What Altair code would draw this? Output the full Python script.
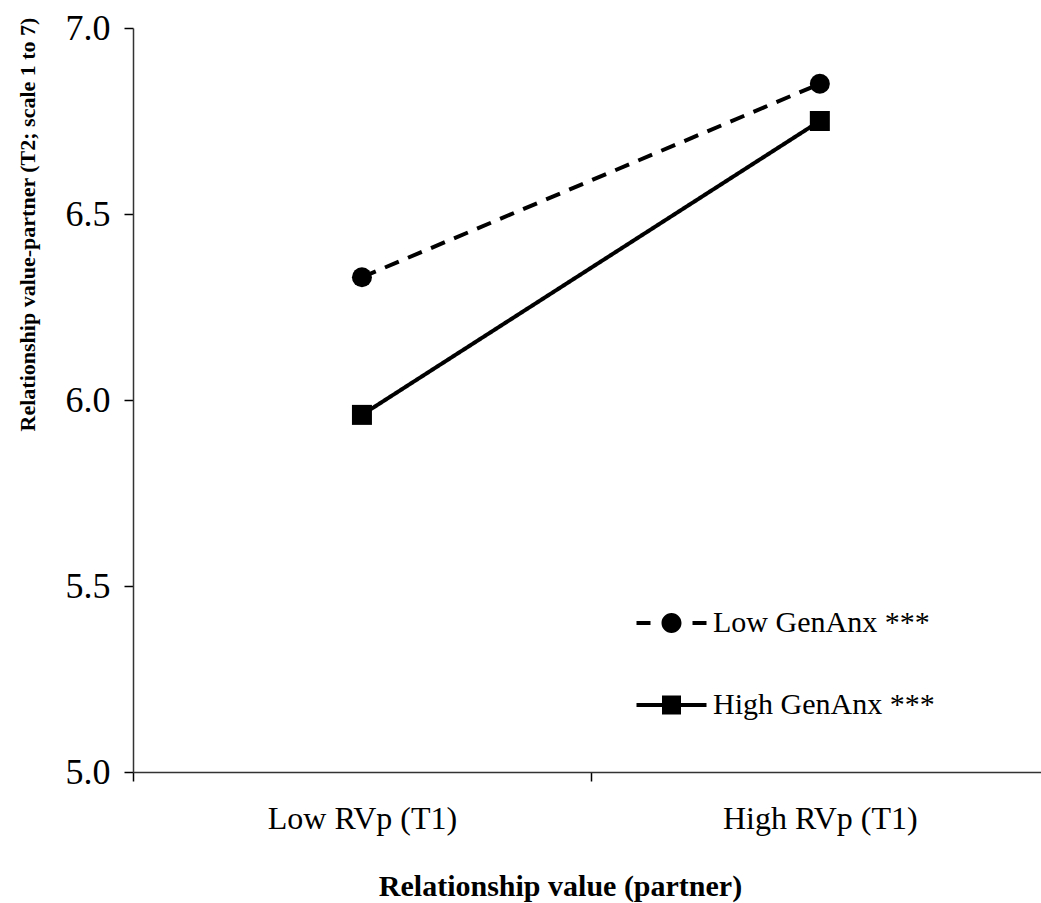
import altair as alt
import pandas as pd

# ---- data ----
categories = ["Low RVp (T1)", "High RVp (T1)"]
series_names = ["Low GenAnx ***", "High GenAnx ***"]
low_genanx = [6.33, 6.85]
high_genanx = [5.96, 6.75]
y_ticks = [5.0, 5.5, 6.0, 6.5, 7.0]

rows = []
for name, vals in zip(series_names, [low_genanx, high_genanx]):
    for i, (cat, v) in enumerate(zip(categories, vals)):
        rows.append({"series": name, "category": cat, "pos": i, "value": v})
df = pd.DataFrame(rows)

FONT = "Liberation Serif"

label_expr = (
    f"datum.value == 0 ? '{categories[0]}' : "
    f"datum.value == 1 ? '{categories[1]}' : ''"
)

x_enc = alt.X(
    "pos:Q",
    scale=alt.Scale(domain=[-0.5, 1.483], nice=False, zero=False),
    axis=alt.Axis(
        title="Relationship value (partner)",
        values=[-0.5, 0, 0.5, 1],
        labelExpr=label_expr,
        labelFlush=False,
        labelOverlap=False,
        labelLimit=0,
        labelFont=FONT,
        labelFontSize=32,
        labelColor="black",
        labelBaseline="top",
        labelPadding=22,
        tickSize=9,
        tickColor="black",
        tickWidth=1.5,
        tickOpacity={"condition": {"test": "datum.value == 0 || datum.value == 1", "value": 0}, "value": 1},
        domainColor="#333333",
        domainWidth=1.5,
        grid=False,
        titleFont=FONT,
        titleFontSize=30,
        titleFontWeight="bold",
        titleColor="black",
        titleX=427,
        titleY=114,
        titleBaseline="middle",
        titleAlign="center",
    ),
)

y_enc = alt.Y(
    "value:Q",
    scale=alt.Scale(domain=[5, 7], nice=False, zero=False),
    axis=alt.Axis(
        title="Relationship value-partner (T2; scale 1 to 7)",
        values=y_ticks,
        format=".1f",
        labelFont=FONT,
        labelFontSize=36,
        labelColor="black",
        labelPadding=14,
        tickSize=9,
        tickColor="black",
        tickWidth=1.5,
        domainColor="#333333",
        domainWidth=1.5,
        grid=False,
        titleFont=FONT,
        titleFontSize=22,
        titleFontWeight="bold",
        titleColor="black",
        titleX=-106,
        titleY=196,
        titleBaseline="middle",
        titleAlign="center",
        titleAngle=270,
    ),
)

lines = alt.Chart(df).mark_line(color="black", strokeWidth=4).encode(
    x=x_enc,
    y=y_enc,
    detail="series:N",
    strokeDash=alt.StrokeDash(
        "series:N",
        scale=alt.Scale(domain=series_names, range=[[15, 10], [1, 0]]),
        legend=None,
    ),
)

points = alt.Chart(df).mark_point(filled=True, size=400, color="black", opacity=1).encode(
    x="pos:Q",
    y="value:Q",
    shape=alt.Shape(
        "series:N",
        scale=alt.Scale(domain=series_names, range=["circle", "square"]),
        legend=None,
    ),
)

# legend symbols: line pieces drawn as thin filled bars plus the marker
legend_low = (
    "M-3.5,-0.2H-2.1V0.2H-3.5Z"
    "M2.1,-0.2H3.5V0.2H2.1Z"
    "M-1,0A1,1,0,1,1,1,0A1,1,0,1,1,-1,0Z"
)
legend_high = (
    "M-3.5,-0.2H-0.95V0.2H-3.5Z"
    "M0.95,-0.2H3.5V0.2H0.95Z"
    "M-0.95,-0.95H0.95V0.95H-0.95Z"
)

legend_layer = alt.Chart(df).mark_point(
    filled=True, size=400, color="black", opacity=0
).encode(
    x="pos:Q",
    y="value:Q",
    shape=alt.Shape(
        "series:N",
        scale=alt.Scale(domain=series_names, range=[legend_low, legend_high]),
        legend=alt.Legend(
            title=None,
            orient="none",
            legendX=523.5,
            legendY=580,
            padding=0,
            symbolSize=400,
            symbolStrokeWidth=0,
            symbolFillColor="black",
            symbolOpacity=1,
            labelFont=FONT,
            labelFontSize=30,
            labelColor="black",
            labelOffset=26.5,
            labelLimit=0,
            rowPadding=52,
        ),
    ),
)

chart = (
    alt.layer(lines, points, legend_layer)
    .resolve_scale(shape="independent")
    .properties(
        width=908,
        height=744,
        autosize=alt.AutoSizeParams(type="none"),
        padding={"left": 133, "top": 28, "right": 0, "bottom": 131},
    )
    .configure_view(stroke=None)
)

chart.save("out.html", embed_options={"renderer": "svg", "actions": False})
